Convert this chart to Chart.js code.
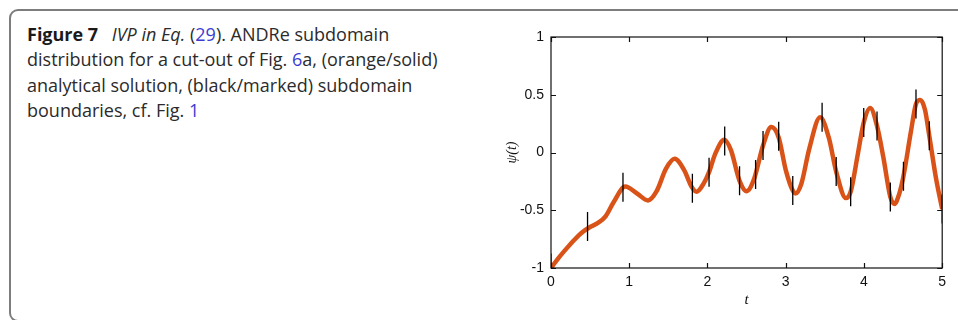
<!DOCTYPE html>
<html>
<head>
<meta charset="utf-8">
<script src="https://cdn.jsdelivr.net/npm/chart.js@4/dist/chart.umd.min.js"></script>
<style>
  html, body { margin: 0; padding: 0; background: #fff; }
  #wrap { position: relative; width: 958px; height: 320px; overflow: hidden; }
  #frame {
    position: absolute; left: 9px; top: 9px; width: 1000px; height: 313px;
    border: 2px solid #7d7d7d; border-radius: 9px; box-sizing: border-box;
  }
  #caption {
    position: absolute; left: 27px; top: 22px; white-space: nowrap;
    font-family: "Open Sans", "Noto Sans", sans-serif; font-size: 18px;
    line-height: 25.3px; color: #2b2b2b;
  }
  #caption b { font-weight: 700; color: #1a1a1a; margin-right: 9px; }
  #caption i { font-style: italic; }
  #caption a { color: #3b3bd3; text-decoration: none; }
  #plot { position: absolute; left: 0; top: 0; }
</style>
</head>
<body>
<div id="wrap">
  <div id="frame"></div>
  <div id="caption">
    <b>Figure 7</b> <i>IVP in Eq.</i> (<a>29</a>). ANDRe subdomain<br>
    distribution for a cut-out of Fig. <a>6</a>a, (orange/solid)<br>
    analytical solution, (black/marked) subdomain<br>
    boundaries, cf. Fig. <a>1</a>
  </div>
  <canvas id="plot" width="958" height="320"></canvas>
</div>
<script>
// analytical solution psi(t)
const curveT = [0, 0.1, 0.2, 0.3, 0.4, 0.5, 0.6, 0.7, 0.8, 0.95, 1.1, 1.24, 1.35, 1.47, 1.58,
  1.7, 1.8, 1.86, 1.95, 2.02, 2.1, 2.215, 2.3, 2.41, 2.5, 2.6, 2.71, 2.815, 2.91, 3.0,
  3.09, 3.125, 3.2, 3.3, 3.44, 3.55, 3.645, 3.77, 3.83, 3.92, 3.997, 4.08, 4.167, 4.25,
  4.337, 4.39, 4.45, 4.505, 4.6, 4.665, 4.72, 4.78, 4.835, 4.92, 5.0];
const curveY = [-1.0, -0.91, -0.83, -0.755, -0.69, -0.645, -0.61, -0.55, -0.43, -0.295, -0.355, -0.415, -0.335, -0.14, -0.055,
  -0.15, -0.30, -0.34, -0.27, -0.17, -0.01, 0.11, 0.02, -0.245, -0.335, -0.22, 0.06, 0.22, 0.13, -0.15,
  -0.33, -0.355, -0.27, 0.03, 0.305, 0.13, -0.165, -0.395, -0.34, -0.02, 0.26, 0.385, 0.23, -0.05,
  -0.385, -0.445, -0.36, -0.205, 0.18, 0.42, 0.455, 0.37, 0.145, -0.22, -0.49];

// subdomain boundaries (position on t and value of psi there)
const boundaryT = [0, 0.467, 0.92, 1.807, 2.02, 2.22, 2.41, 2.615, 2.71, 2.91, 3.09,
  3.465, 3.645, 3.83, 3.997, 4.167, 4.337, 4.505, 4.665, 4.835, 5.0];
const boundaryY = [-1.0, -0.64, -0.30, -0.31, -0.17, 0.10, -0.245, -0.19, 0.06, 0.14, -0.33,
  0.305, -0.165, -0.34, 0.26, 0.23, -0.385, -0.205, 0.42, 0.145, -0.49];

const xTicks = [0, 1, 2, 3, 4, 5];
const yTicks = [-1, -0.5, 0, 0.5, 1];
const yTickLabels = ['-1', '-0.5', '0', '0.5', '1'];

const curvePoints = curveT.map((t, i) => ({ x: t, y: curveY[i] }));
const boundaryPoints = boundaryT.map((t, i) => ({ x: t, y: boundaryY[i] }));

const axisColor = '#111';
const tickFont = { family: '"Liberation Sans", Arial, sans-serif', size: 14 };

// box around the plot area with inward tick marks on all four sides
const boxAxes = {
  id: 'boxAxes',
  afterDraw(chart) {
    const { ctx, chartArea: a, scales } = chart;
    const len = 5;
    ctx.save();
    ctx.strokeStyle = axisColor;
    ctx.lineWidth = 1.2;
    ctx.beginPath();
    scales.x.ticks.forEach(tk => {
      const px = Math.round(scales.x.getPixelForValue(tk.value)) + 0.5;
      ctx.moveTo(px, a.bottom); ctx.lineTo(px, a.bottom - len);
      ctx.moveTo(px, a.top); ctx.lineTo(px, a.top + len);
    });
    scales.y.ticks.forEach(tk => {
      const py = Math.round(scales.y.getPixelForValue(tk.value)) + 0.5;
      ctx.moveTo(a.left, py); ctx.lineTo(a.left + len, py);
      ctx.moveTo(a.right, py); ctx.lineTo(a.right - len, py);
    });
    ctx.stroke();
    ctx.strokeRect(a.left, a.top, a.right - a.left, a.bottom - a.top);
    ctx.restore();
  }
};

new Chart(document.getElementById('plot'), {
  type: 'scatter',
  data: {
    datasets: [
      {
        label: 'subdomain boundaries',
        data: boundaryPoints,
        showLine: false,
        pointStyle: 'line',
        rotation: 90,
        pointRadius: 14.5,
        pointHoverRadius: 14.5,
        pointBorderWidth: 1.3,
        pointBorderColor: '#000',
        pointBackgroundColor: '#000',
        order: 0
      },
      {
        label: 'analytical solution',
        data: curvePoints,
        showLine: true,
        borderColor: '#D95319',
        borderWidth: 4.5,
        pointRadius: 0,
        pointHoverRadius: 0,
        cubicInterpolationMode: 'monotone',
        order: 1
      }
    ]
  },
  options: {
    responsive: false,
    animation: false,
    devicePixelRatio: 1,
    events: [],
    layout: { padding: { left: 503, right: 15, top: 37, bottom: 7 } },
    plugins: { legend: { display: false }, tooltip: { enabled: false } },
    scales: {
      x: {
        type: 'linear',
        min: 0, max: 5,
        afterBuildTicks: s => { s.ticks = xTicks.map(v => ({ value: v })); },
        afterFit: s => { s.height = 45; },
        grid: { display: false, drawTicks: false },
        border: { display: false },
        ticks: { font: tickFont, color: axisColor, padding: 6, maxRotation: 0,
                 callback: v => String(v) },
        title: { display: true, text: 't', color: axisColor, padding: { top: 0, bottom: 4 },
                 font: { family: '"Liberation Serif", "DejaVu Serif", serif', size: 15, style: 'italic' } }
      },
      y: {
        type: 'linear',
        min: -1, max: 1,
        afterBuildTicks: s => { s.ticks = yTicks.map(v => ({ value: v })); },
        afterFit: s => { s.width = 48; },
        grid: { display: false, drawTicks: false },
        border: { display: false },
        ticks: { font: tickFont, color: axisColor, padding: 7,
                 callback: v => yTickLabels[yTicks.indexOf(v)] },
        title: { display: true, text: 'ψ(t)', color: axisColor, padding: { top: 1, bottom: 0 },
                 font: { family: '"Liberation Serif", "DejaVu Serif", serif', size: 14, style: 'italic' } }
      }
    }
  },
  plugins: [boxAxes]
});
</script>
</body>
</html>
